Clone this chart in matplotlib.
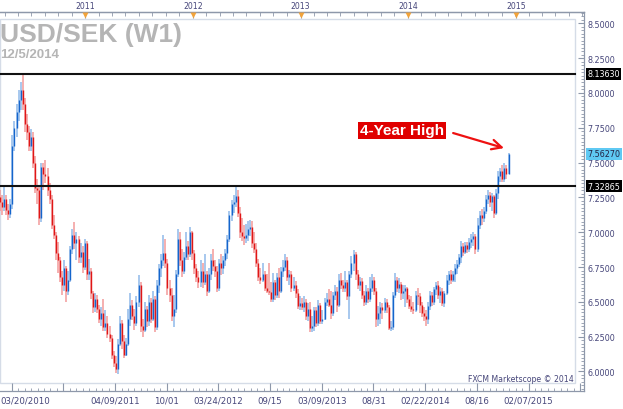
import numpy as np
import matplotlib
matplotlib.use("Agg")
from matplotlib import pyplot as plt
from matplotlib import transforms
from matplotlib.patches import Rectangle
from matplotlib.ticker import FormatStrFormatter

# weekly USD/SEK bars (open = previous close)
first_open = 7.25
closes = [
    7.22, 7.18, 7.24, 7.16, 7.13, 7.20, 7.62, 7.75, 7.86, 7.95,
    8.02, 7.92, 7.78, 7.72, 7.62, 7.68, 7.50, 7.32, 7.30, 7.10,
    7.47, 7.42, 7.40, 7.30, 7.24, 7.05, 6.98, 6.85, 6.80, 6.68,
    6.62, 6.74, 6.58, 6.66, 6.88, 6.98, 6.92, 6.95, 6.82, 6.86,
    6.75, 6.92, 6.70, 6.72, 6.56, 6.46, 6.52, 6.45, 6.38, 6.42,
    6.32, 6.35, 6.27, 6.24, 6.12, 6.06, 6.02, 6.20, 6.35, 6.22,
    6.12, 6.20, 6.38, 6.48, 6.40, 6.35, 6.50, 6.62, 6.33, 6.30,
    6.45, 6.36, 6.50, 6.38, 6.52, 6.32, 6.62, 6.74, 6.80, 6.85,
    6.78, 6.60, 6.55, 6.40, 6.45, 6.70, 6.95, 6.80, 6.72, 6.82,
    6.90, 6.84, 7.00, 6.85, 6.74, 6.68, 6.64, 6.72, 6.64, 6.70,
    6.58, 6.70, 6.80, 6.76, 6.72, 6.60, 6.78, 6.74, 6.80, 6.85,
    6.95, 7.12, 7.20, 7.22, 7.26, 7.14, 7.00, 6.97, 6.96, 6.98,
    7.02, 7.04, 6.92, 6.88, 6.78, 6.68, 6.66, 6.70, 6.60, 6.58,
    6.57, 6.52, 6.64, 6.55, 6.68, 6.58, 6.72, 6.75, 6.80, 6.68,
    6.70, 6.60, 6.62, 6.56, 6.47, 6.49, 6.46, 6.50, 6.40, 6.45,
    6.31, 6.33, 6.44, 6.35, 6.48, 6.36, 6.38, 6.50, 6.52, 6.48,
    6.42, 6.55, 6.58, 6.48, 6.66, 6.62, 6.60, 6.64, 6.54, 6.70,
    6.78, 6.84, 6.70, 6.62, 6.65, 6.55, 6.50, 6.58, 6.52, 6.60,
    6.66, 6.58, 6.38, 6.42, 6.46, 6.44, 6.50, 6.46, 6.31, 6.32,
    6.55, 6.66, 6.60, 6.63, 6.56, 6.58, 6.60, 6.52, 6.47, 6.45,
    6.44, 6.55, 6.54, 6.48, 6.42, 6.40, 6.38, 6.47, 6.55, 6.50,
    6.59, 6.62, 6.55, 6.58, 6.49, 6.56, 6.66, 6.70, 6.66, 6.70,
    6.74, 6.77, 6.82, 6.90, 6.86, 6.91, 6.88, 6.93, 6.95, 6.97,
    6.88, 7.05, 7.12, 7.10, 7.15, 7.24, 7.27, 7.22, 7.26, 7.14,
    7.28, 7.40, 7.44, 7.38, 7.46, 7.42, 7.5627,
]
highs = [
    7.30, 7.27, 7.34, 7.27, 7.20, 7.24, 7.70, 7.80, 7.92, 8.02,
    8.08, 8.14, 7.96, 7.85, 7.76, 7.74, 7.72, 7.55, 7.38, 7.33,
    7.50, 7.50, 7.52, 7.46, 7.35, 7.27, 7.12, 7.00, 6.93, 6.82,
    6.72, 6.80, 6.76, 6.72, 6.90, 7.02, 7.07, 7.00, 6.97, 6.92,
    6.90, 6.95, 6.94, 6.81, 6.74, 6.58, 6.56, 6.55, 6.48, 6.46,
    6.52, 6.44, 6.40, 6.33, 6.26, 6.15, 6.11, 6.23, 6.40, 6.37,
    6.26, 6.24, 6.45, 6.56, 6.51, 6.45, 6.54, 6.69, 6.64, 6.38,
    6.50, 6.47, 6.55, 6.53, 6.58, 6.54, 6.66, 6.77, 6.84, 6.98,
    6.95, 6.81, 6.66, 6.60, 6.55, 6.73, 7.02, 7.00, 6.88, 6.86,
    7.00, 6.94, 7.04, 7.01, 6.87, 6.77, 6.72, 6.80, 6.78, 6.84,
    6.72, 6.74, 6.84, 6.88, 6.80, 6.76, 6.81, 6.84, 6.83, 6.88,
    6.98, 7.15, 7.23, 7.27, 7.33, 7.30, 7.18, 7.10, 7.05, 7.06,
    7.08, 7.09, 7.08, 7.00, 6.92, 6.81, 6.74, 6.78, 6.72, 6.70,
    6.78, 6.64, 6.71, 6.66, 6.71, 6.74, 6.75, 6.80, 6.84, 6.82,
    6.73, 6.72, 6.68, 6.65, 6.59, 6.54, 6.53, 6.54, 6.52, 6.49,
    6.50, 6.40, 6.46, 6.46, 6.51, 6.49, 6.44, 6.53, 6.56, 6.59,
    6.58, 6.57, 6.62, 6.61, 6.70, 6.71, 6.66, 6.72, 6.66, 6.72,
    6.83, 6.87, 6.86, 6.73, 6.68, 6.67, 6.58, 6.62, 6.60, 6.68,
    6.70, 6.68, 6.60, 6.47, 6.50, 6.49, 6.53, 6.52, 6.48, 6.36,
    6.57, 6.71, 6.68, 6.67, 6.64, 6.62, 6.62, 6.61, 6.55, 6.54,
    6.50, 6.58, 6.60, 6.56, 6.50, 6.46, 6.44, 6.50, 6.58, 6.57,
    6.61, 6.64, 6.65, 6.61, 6.60, 6.58, 6.69, 6.72, 6.73, 6.72,
    6.77, 6.80, 6.84, 6.94, 6.92, 6.93, 6.93, 6.96, 6.99, 7.00,
    6.99, 7.10, 7.15, 7.17, 7.18, 7.27, 7.30, 7.29, 7.28, 7.27,
    7.31, 7.44, 7.46, 7.48, 7.50, 7.48, 7.57,
]
lows = [
    7.15, 7.12, 7.15, 7.12, 7.09, 7.10, 7.17, 7.58, 7.68, 7.80,
    7.88, 7.88, 7.72, 7.66, 7.58, 7.58, 7.46, 7.28, 7.20, 7.05,
    7.07, 7.30, 7.35, 7.26, 7.20, 7.02, 6.95, 6.80, 6.71, 6.64,
    6.55, 6.58, 6.50, 6.55, 6.64, 6.84, 6.88, 6.80, 6.78, 6.78,
    6.71, 6.73, 6.66, 6.66, 6.52, 6.42, 6.43, 6.42, 6.35, 6.33,
    6.29, 6.29, 6.24, 6.21, 6.09, 6.03, 5.99, 5.98, 6.18, 6.16,
    6.10, 6.11, 6.18, 6.33, 6.37, 6.30, 6.33, 6.46, 6.28, 6.25,
    6.28, 6.32, 6.33, 6.35, 6.36, 6.28, 6.30, 6.56, 6.68, 6.76,
    6.74, 6.55, 6.50, 6.36, 6.32, 6.42, 6.68, 6.76, 6.68, 6.70,
    6.80, 6.80, 6.82, 6.80, 6.70, 6.64, 6.60, 6.61, 6.60, 6.62,
    6.54, 6.56, 6.66, 6.72, 6.68, 6.57, 6.58, 6.69, 6.70, 6.76,
    6.81, 6.93, 7.08, 7.14, 7.18, 7.11, 6.96, 6.94, 6.91, 6.92,
    6.94, 6.97, 6.89, 6.85, 6.75, 6.65, 6.63, 6.64, 6.58, 6.56,
    6.55, 6.50, 6.50, 6.51, 6.53, 6.53, 6.56, 6.68, 6.72, 6.65,
    6.62, 6.57, 6.58, 6.53, 6.45, 6.44, 6.44, 6.43, 6.37, 6.36,
    6.28, 6.28, 6.29, 6.32, 6.33, 6.34, 6.34, 6.37, 6.47, 6.46,
    6.38, 6.40, 6.51, 6.43, 6.46, 6.59, 6.57, 6.57, 6.51, 6.38,
    6.67, 6.72, 6.66, 6.59, 6.58, 6.52, 6.47, 6.48, 6.49, 6.50,
    6.57, 6.55, 6.32, 6.33, 6.34, 6.38, 6.42, 6.42, 6.30, 6.29,
    6.30, 6.53, 6.57, 6.56, 6.51, 6.52, 6.46, 6.49, 6.45, 6.43,
    6.41, 6.43, 6.48, 6.42, 6.39, 6.36, 6.33, 6.34, 6.44, 6.47,
    6.48, 6.55, 6.52, 6.49, 6.47, 6.46, 6.55, 6.62, 6.63, 6.64,
    6.64, 6.70, 6.75, 6.78, 6.83, 6.84, 6.85, 6.86, 6.89, 6.90,
    6.84, 6.86, 7.02, 7.05, 7.07, 7.13, 7.20, 7.18, 7.15, 7.10,
    7.12, 7.24, 7.36, 7.36, 7.36, 7.38, 7.42,
]

levels = [8.13630, 7.32865]
last_price = 7.56270

date_labels = ["03/20/2010", "", "04/09/2011", "10/01", "03/24/2012", "09/15",
               "03/09/2013", "08/31", "02/22/2014", "08/16", "02/07/2015", ""]
year_labels = ["2011", "2012", "2013", "2014", "2015"]

opens = [first_open] + closes[:-1]
x = np.arange(len(closes))
up = np.array(closes) >= np.array(opens)

dark = np.where(up, "#1565cc", "#e01616")
light = np.where(up, "#8fb9ea", "#f29a9a")

lab_col = "#46467a"
spine_col = "#8e98aa"

fig = plt.figure(figsize=(6.23, 4.10), dpi=100)
ax = fig.add_axes([0, 18 / 410, 584 / 623, 379 / 410])
ax.set_xlim(0, 282.5)
ax.set_ylim(5.86, 8.581)

# candles: light wick, dark body
ax.vlines(x, lows, highs, colors=light, lw=1.1)
ax.vlines(x, np.minimum(opens, closes), np.maximum(opens, closes), colors=dark, lw=1.0)

for lv in levels:
    ax.axhline(lv, xmin=0, xmax=575 / 584, color="#111111", lw=1.5)

# inner light frame
ax.add_patch(Rectangle((0, 8 / 379), 575 / 584, 364 / 379, transform=ax.transAxes,
                       fill=False, ec="#d5dce7", lw=1.0))

ax.spines["left"].set_visible(False)
for s in ["bottom", "right", "top"]:
    ax.spines[s].set_color(spine_col)
    ax.spines[s].set_linewidth(0.9)

# right price scale
ax.yaxis.tick_right()
ax.set_yticks(np.arange(6.0, 8.51, 0.25))
ax.set_yticks(np.arange(5.875, 8.58, 0.025), minor=True)
ax.yaxis.set_major_formatter(FormatStrFormatter("%.4f"))
ax.tick_params(axis="y", which="major", direction="in", length=4, width=0.8,
               colors=spine_col, labelcolor=lab_col, labelsize=5.8, pad=2.5)
ax.tick_params(axis="y", which="minor", direction="in", length=2, width=0.6,
               colors=spine_col)

# bottom date scale
date_pos = 5.66 + 25 * np.arange(len(date_labels))
ax.set_xticks(date_pos)
ax.set_xticklabels(date_labels)
ax.set_xticks(np.arange(5.66, 282.5, 25 / 8), minor=True)
ax.tick_params(axis="x", which="major", direction="in", length=6, width=0.8,
               colors=spine_col, labelcolor=lab_col, labelsize=6.2, pad=3)
ax.tick_params(axis="x", which="minor", direction="in", length=2.5, width=0.6,
               colors=spine_col)
first = ax.get_xticklabels()[0]
first.set_ha("left")
first.set_transform(first.get_transform() +
                    transforms.ScaledTranslation(-11.5 / 100, 0, fig.dpi_scale_trans))

# top year scale
year_pos = 41.2 + 52.1 * np.arange(len(year_labels))
ax2 = ax.twiny()
ax2.set_xlim(ax.get_xlim())
ax2.set_xticks(year_pos)
ax2.set_xticklabels(year_labels)
ax2.set_xticks(np.arange(year_pos[0] - 6.5 * 6, 282.5, 6.5), minor=True)
ax2.tick_params(axis="x", which="major", direction="in", length=4, width=0.8,
                colors=spine_col, labelcolor=lab_col, labelsize=5.6, pad=1.5)
ax2.tick_params(axis="x", which="minor", direction="in", length=3, width=0.6,
                colors=spine_col)
for s in ["left", "right", "bottom"]:
    ax2.spines[s].set_visible(False)
ax2.spines["top"].set_color(spine_col)
ax2.spines["top"].set_linewidth(0.9)
ax2.scatter(year_pos, [0.9925] * len(year_pos), marker="v", s=18, color="#f2a33a",
            transform=transforms.blended_transform_factory(ax2.transData, ax2.transAxes),
            clip_on=False, zorder=5, linewidths=0)

# price boxes on the right scale
bt = transforms.blended_transform_factory(ax.transAxes, ax.transData)
for lv in levels:
    ax.text(1.006, lv, "%.5f" % lv, transform=bt, ha="left", va="center",
            fontsize=5.8, color="white",
            bbox=dict(boxstyle="square,pad=0.18", fc="black", ec="none"))
ax.text(1.006, last_price, "%.5f" % last_price, transform=bt, ha="left", va="center",
        fontsize=5.8, color="#222244",
        bbox=dict(boxstyle="square,pad=0.18", fc="#5fc9f3", ec="none"))

# annotation
ax.annotate("", xy=(243.8, 7.604), xytext=(219.2, 7.712),
            arrowprops=dict(arrowstyle="->,head_length=0.7,head_width=0.35",
                            color="#ee1111", lw=1.6, shrinkA=0, shrinkB=0))
ax.text(194.5, 7.733, "4-Year High", ha="center", va="center", color="white",
        fontweight="bold", fontsize=11, family="Liberation Sans",
        bbox=dict(boxstyle="square,pad=0.1", fc="#e00000", ec="none"))

ax.text(0.983, 12 / 379, "FXCM Marketscope \u00a9 2014", transform=ax.transAxes,
        ha="right", va="center", fontsize=5.6, color=lab_col)

fig.text(0, 1 - 42 / 410, "USD/SEK (W1)", fontsize=19, fontweight="bold",
         color="#b5b5b5", family="Liberation Sans", va="baseline")
fig.text(0, 1 - 57.5 / 410, "12/5/2014", fontsize=9.5, fontweight="bold",
         color="#b5b5b5", family="Liberation Sans", va="baseline")

plt.savefig("out.png", dpi=100)
